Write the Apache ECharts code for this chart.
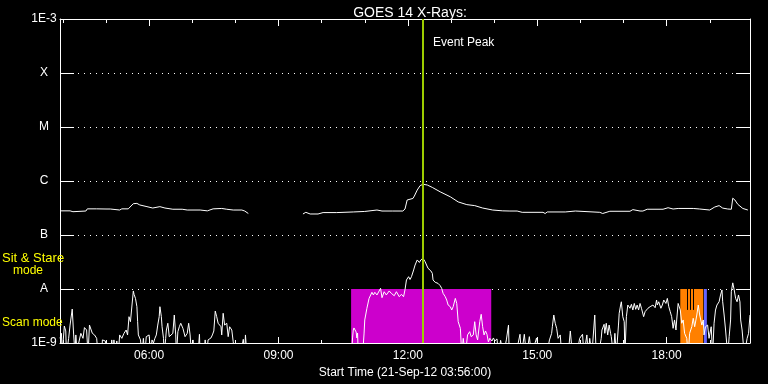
<!DOCTYPE html>
<html>
<head>
<meta charset="utf-8">
<script src="https://cdn.jsdelivr.net/npm/echarts@6/dist/echarts.min.js"></script>
<style>
html,body{margin:0;padding:0;background:#000;}
#chart{width:768px;height:384px;}
</style>
</head>
<body>
<div id="chart"></div>
<script>
// ---- data (x in minutes of day, 21-Sep-12) ----
const xMinorTicks = [240,300,360,420,480,540,600,660,720,780,840,900,960,1020,1080,1140];
const xMajorTicks = [360,540,720,900,1080];
const xTickLabels = ['06:00','09:00','12:00','15:00','18:00'];
const yTickLabels = ['1E-9','A','B','C','M','X','1E-3'];
const xRange = [236, 1196];
const yRange = [1e-9, 1e-3];
const eventPeak = 741;
const bandLevels = [1e-9, 1e-8];
const sitStareWindow = [641, 836];
const scanWindow = [1099, 1131];
const otherWindow = [1132, 1136];
const scanGaps = [1109, 1113, 1117];
const scanGapBottom = 4.1e-9;

const longFlux = [
[236,2.8e-7],[250,2.8e-7],[254,2.7e-7],[256,2.78e-7],[272,2.78e-7],[274,3.05e-7],[287,3.05e-7],[300,3.03e-7],
[306,3.03e-7],[308,2.9e-7],[319,2.9e-7],[322,3.05e-7],[331,3.05e-7],[333,3.27e-7],[338,3.8e-7],[343,3.85e-7],
[347,3.6e-7],[357,3.35e-7],[365,3.16e-7],[375,3.35e-7],[382,3.16e-7],[393,3.0e-7],[406,3.0e-7],[413,2.9e-7],
[431,2.9e-7],[441,2.8e-7],[449,3.05e-7],[461,3.1e-7],[468,3.0e-7],[477,2.9e-7],[489,2.9e-7],[493,2.78e-7],
[498,2.5e-7],[536,'-'],
[574,2.45e-7],[578,2.63e-7],[580,2.63e-7],[584,2.45e-7],[595,2.45e-7],[602,2.6e-7],[621,2.6e-7],[644,2.67e-7],
[660,2.73e-7],[677,2.9e-7],[684,2.78e-7],[699,2.78e-7],[713,2.78e-7],[716,3.03e-7],[719,4.45e-7],[720,4.8e-7],
[727,4.75e-7],[729,5.27e-7],[733,6.8e-7],[737,8.2e-7],[741,8.7e-7],[747,8.43e-7],[754,7.6e-7],[765,6.3e-7],
[779,5.1e-7],[790,4.1e-7],[802,3.65e-7],[813,3.5e-7],[824,3.16e-7],[838,2.9e-7],[852,2.8e-7],[862,2.78e-7],
[872,2.78e-7],[879,2.63e-7],[908,2.63e-7],[911,2.5e-7],[914,2.67e-7],[939,2.67e-7],[941,2.78e-7],[953,2.78e-7],
[955,2.63e-7],[987,2.63e-7],[991,2.5e-7],[1001,2.75e-7],[1029,2.75e-7],[1033,2.95e-7],[1043,2.78e-7],[1047,2.78e-7],
[1053,3.0e-7],[1068,3.0e-7],[1075,3.0e-7],[1082,3.2e-7],[1089,3.03e-7],[1096,3.1e-7],[1117,3.1e-7],[1126,3.03e-7],
[1140,2.9e-7],[1147,3.3e-7],[1153,3.5e-7],[1158,3.15e-7],[1165,3.03e-7],[1170,3.0e-7],[1172,4.8e-7],[1175,4.45e-7],
[1179,3.7e-7],[1186,3.1e-7],[1193,2.9e-7]
];

const shortFlux = [
[236,1.22e-9],[238,1.51e-9],[239,6e-10],[242,2.06e-9],[244,1.67e-9],[245,6e-10],[248,1.22e-9],[250,2.15e-9],
[253,4.25e-9],[255,1.41e-9],[257,6e-10],[258,1.41e-9],[260,6e-10],[262,1.0e-9],[265,1.51e-9],[268,1.22e-9],
[270,1.93e-9],[273,1.74e-9],[275,6e-10],[277,2.15e-9],[279,2.22e-9],[281,1.51e-9],[284,1.41e-9],[287,1.22e-9],
[289,6e-10],[291,1.0e-9],[294,6e-10],[295,1.14e-9],[299,1.09e-9],[301,6e-10],[303,1.0e-9],[306,6e-10],
[308,1.14e-9],[310,6e-10],[311,1.14e-9],[313,6e-10],[315,1.09e-9],[317,6e-10],[319,1.41e-9],[322,1.22e-9],
[325,1.51e-9],[328,1.74e-9],[330,1.41e-9],[332,3.07e-9],[334,2.48e-9],[336,2.67e-9],[338,9.2e-9],[339,7.97e-9],
[341,6.7e-9],[343,4.7e-9],[344,2.48e-9],[345,1.41e-9],[348,1.14e-9],[350,6e-10],[352,1.22e-9],[354,6e-10],
[356,1.31e-9],[358,1.22e-9],[360,1.41e-9],[362,6e-10],[364,1.14e-9],[366,1.0e-9],[368,1.22e-9],[370,1.41e-9],
[372,2.15e-9],[374,3.07e-9],[375,4.7e-9],[377,3.07e-9],[378,2.0e-9],[380,1.22e-9],[381,6e-10],[383,1.22e-9],
[384,1.74e-9],[386,2.32e-9],[388,1.31e-9],[390,1.22e-9],[393,1.51e-9],[395,3.3e-9],[397,1.41e-9],[398,6e-10],
[400,1.62e-9],[402,2.0e-9],[404,2.32e-9],[407,1.87e-9],[410,1.31e-9],[413,1.51e-9],[415,2.32e-9],[417,1.41e-9],
[419,6e-10],[421,1.14e-9],[423,6e-10],[425,1.0e-9],[428,6e-10],[430,1.45e-9],[431,6e-10],[433,1.0e-9],
[436,6e-10],[438,1.14e-9],[440,6e-10],[442,1.14e-9],[446,1.24e-9],[448,1.41e-9],[450,1.67e-9],[452,3.9e-9],
[454,3.07e-9],[456,2.32e-9],[458,2.48e-9],[460,2.0e-9],[461,1.41e-9],[463,3.55e-9],[465,2.15e-9],[468,2.32e-9],
[470,1.31e-9],[472,2.0e-9],[475,1.74e-9],[477,1.05e-9],[479,6e-10],[483,6e-10],[487,6e-10],[491,1.17e-9],
[493,6e-10],[494,1.41e-9],[496,6e-10],[560,'-'],
[642,6e-10],[643,1.24e-9],[644,1.74e-9],[645,1.9e-9],[647,1.9e-9],[648,1.6e-9],[649,1.24e-9],[650,1.53e-9],
[651,6e-10],[654,1.0e-9],[657,6e-10],[659,1.47e-9],[660,2.67e-9],[663,4.4e-9],[664,4.7e-9],[666,6.7e-9],
[668,7.2e-9],[670,8.7e-9],[672,7.75e-9],[674,8.7e-9],[677,7.75e-9],[679,8.3e-9],[682,1.03e-8],[684,6.9e-9],
[687,8.9e-9],[690,7.75e-9],[694,9.2e-9],[697,8.3e-9],[701,7.5e-9],[704,8.9e-9],[708,7.2e-9],[711,7.97e-9],
[714,7.2e-9],[716,9.7e-9],[718,1.47e-8],[721,1.69e-8],[723,1.5e-8],[725,1.69e-8],[728,2.25e-8],[730,2.78e-8],
[733,3.45e-8],[736,3.1e-8],[738,3.45e-8],[741,3.7e-8],[744,3.2e-8],[746,2.78e-8],[748,2.42e-8],[752,2.16e-8],
[754,1.95e-8],[755,1.47e-8],[758,1.33e-8],[760,1.4e-8],[762,1.27e-8],[765,1.15e-8],[767,1.03e-8],[769,8.3e-9],
[772,7.2e-9],[774,6.25e-9],[776,5.05e-9],[779,4.7e-9],[781,4.08e-9],[783,4.7e-9],[786,6.7e-9],[788,5.4e-9],
[790,2.48e-9],[793,1.87e-9],[795,6e-10],[797,1.22e-9],[800,6e-10],[803,1.41e-9],[806,1.62e-9],[808,1.31e-9],
[811,1.41e-9],[813,2.48e-9],[815,1.41e-9],[817,1.14e-9],[820,2.48e-9],[822,3.4e-9],[824,2.0e-9],[826,1.41e-9],
[828,1.67e-9],[830,1.45e-9],[832,1.05e-9],[834,1.22e-9],[837,1.09e-9],[839,1.24e-9],[841,1.09e-9],[844,1.19e-9],
[846,6e-10],[849,1.12e-9],[853,6e-10],[857,1.14e-9],[860,2.15e-9],[861,6e-10],[865,6e-10],[870,6e-10],
[876,1.45e-9],[878,6e-10],[882,1.45e-9],[885,6e-10],[889,1.31e-9],[892,6e-10],[899,1.24e-9],[903,6e-10],
[913,6e-10],[917,1.14e-9],[920,1.51e-9],[921,2.0e-9],[923,3.3e-9],[925,2.32e-9],[927,1.87e-9],[929,1.22e-9],
[932,1.41e-9],[934,6e-10],[943,6e-10],[946,1.67e-9],[949,6e-10],[955,6e-10],[959,1.22e-9],[963,1.45e-9],
[965,6e-10],[969,1.41e-9],[971,6e-10],[973,1.22e-9],[976,6e-10],[980,3.3e-9],[982,6e-10],[985,6e-10],
[989,1.22e-9],[990,1.74e-9],[993,2.22e-9],[994,1.51e-9],[996,2.32e-9],[998,1.41e-9],[1000,2.15e-9],[1002,1.51e-9],
[1003,1.31e-9],[1006,6e-10],[1008,1.51e-9],[1010,6e-10],[1013,2.15e-9],[1014,3.55e-9],[1016,5.05e-9],[1017,5.8e-9],
[1019,3.07e-9],[1021,2.48e-9],[1022,6e-10],[1024,3.07e-9],[1026,5.05e-9],[1028,5.4e-9],[1029,4.4e-9],[1031,5.2e-9],
[1033,4.08e-9],[1035,5.4e-9],[1037,4.2e-9],[1039,5.05e-9],[1041,4.08e-9],[1043,5.4e-9],[1045,4.4e-9],[1048,3.07e-9],
[1050,3.8e-9],[1052,4.08e-9],[1054,4.4e-9],[1057,4.7e-9],[1059,4.4e-9],[1061,5.05e-9],[1064,4.5e-9],[1066,6.25e-9],
[1067,5.05e-9],[1069,5.8e-9],[1072,4.4e-9],[1074,5.05e-9],[1076,6.25e-9],[1079,5.4e-9],[1081,6.7e-9],[1083,4.7e-9],
[1085,3.8e-9],[1087,3.07e-9],[1089,1.87e-9],[1091,2.67e-9],[1093,1.74e-9],[1094,2.67e-9],[1096,5.4e-9],[1099,4.08e-9],
[1101,2.32e-9],[1103,2.67e-9],[1105,1.51e-9],[1108,1.22e-9],[1110,6e-10],[1112,1.51e-9],[1115,2.0e-9],[1117,2.87e-9],
[1119,2.0e-9],[1122,3.3e-9],[1124,5.05e-9],[1126,3.3e-9],[1129,2.15e-9],[1131,2.67e-9],[1132,1.41e-9],[1134,2.0e-9],
[1137,2.15e-9],[1139,1.22e-9],[1142,2.0e-9],[1144,6e-10],[1146,2.32e-9],[1148,4.08e-9],[1150,5.05e-9],[1153,5.8e-9],
[1155,7.75e-9],[1157,9.6e-9],[1158,5.8e-9],[1160,3.3e-9],[1162,1.74e-9],[1165,6e-10],[1167,1.31e-9],[1169,2.67e-9],
[1170,8.9e-9],[1172,1.3e-8],[1174,9.6e-9],[1176,6.7e-9],[1178,5.8e-9],[1180,7.75e-9],[1182,5.8e-9],[1183,2.67e-9],
[1185,1.74e-9],[1188,6e-10],[1190,6e-10],[1192,1.22e-9],[1194,1.51e-9],[1196,3.3e-9]
];

// ---- chart ----
const FONT = 'Liberation Sans';
const WHITE = '#ffffff';
const chart = echarts.init(document.getElementById('chart'), null, {renderer: 'canvas'});

function baseX(extra) {
  return Object.assign({
    type: 'value', min: xRange[0], max: xRange[1], gridIndex: 0,
    splitLine: {show: false},
    axisLine: {show: false, lineStyle: {color: WHITE, width: 1}},
    axisLabel: {show: false},
    axisPointer: {show: false}
  }, extra);
}

const option = {
  backgroundColor: '#000000',
  animation: false,
  title: {
    text: 'GOES 14 X-Rays:',
    left: 405, top: 1, textAlign: 'center',
    textStyle: {color: WHITE, fontFamily: FONT, fontSize: 14, fontWeight: 'normal'}
  },
  grid: {left: 60, right: 18, top: 19, bottom: 41},
  xAxis: [
    baseX({
      position: 'bottom',
      axisLine: {show: true, onZero: false, lineStyle: {color: WHITE, width: 1}},
      axisTick: {show: true, inside: true, length: 3, customValues: xMinorTicks, lineStyle: {color: WHITE}},
      axisLabel: {
        show: true, customValues: xMajorTicks, margin: 7,
        color: WHITE, fontFamily: FONT, fontSize: 12,
        formatter: v => xTickLabels[xMajorTicks.indexOf(v)] || ''
      },
      name: 'Start Time (21-Sep-12 03:56:00)', nameLocation: 'middle', nameGap: 20,
      nameTextStyle: {color: WHITE, fontFamily: FONT, fontSize: 12}
    }),
    baseX({
      position: 'bottom',
      axisTick: {show: true, inside: true, length: 6, customValues: xMajorTicks, lineStyle: {color: WHITE}}
    }),
    baseX({
      position: 'top',
      axisLine: {show: true, onZero: false, lineStyle: {color: WHITE, width: 1}},
      axisTick: {show: true, inside: true, length: 4, customValues: xMinorTicks, lineStyle: {color: WHITE}}
    }),
    baseX({
      position: 'top',
      axisTick: {show: true, inside: true, length: 7, customValues: xMajorTicks, lineStyle: {color: WHITE}}
    })
  ],
  yAxis: [
    {
      type: 'log', logBase: 10, min: yRange[0], max: yRange[1], position: 'left',
      axisLine: {show: true, onZero: false, lineStyle: {color: WHITE, width: 1}},
      axisTick: {show: true, inside: true, length: 14, lineStyle: {color: WHITE}},
      axisLabel: {
        show: true, color: WHITE, fontFamily: FONT, fontSize: 12, align: 'center', margin: 16,
        formatter: v => yTickLabels[Math.round(Math.log10(v)) + 9] || ''
      },
      splitLine: {show: true, lineStyle: {color: WHITE, width: 1, type: [1, 5]}},
      axisPointer: {show: false}
    },
    {
      type: 'log', logBase: 10, min: yRange[0], max: yRange[1], position: 'right',
      axisLine: {show: true, onZero: false, lineStyle: {color: WHITE, width: 1}},
      axisTick: {show: true, inside: true, length: 14, lineStyle: {color: WHITE}},
      axisLabel: {show: false},
      splitLine: {show: false},
      axisPointer: {show: false}
    }
  ],
  series: [
    {
      name: 'bands', type: 'line', data: [], z: 1, silent: true,
      xAxisIndex: 0, yAxisIndex: 0,
      markArea: {
        silent: true,
        data: [
          [{xAxis: sitStareWindow[0], yAxis: bandLevels[1], itemStyle: {color: '#cc00cc'}}, {xAxis: sitStareWindow[1], yAxis: bandLevels[0]}],
          [{xAxis: scanWindow[0], yAxis: bandLevels[1], itemStyle: {color: '#ff8000'}}, {xAxis: scanWindow[1], yAxis: bandLevels[0]}],
          [{xAxis: otherWindow[0], yAxis: bandLevels[1], itemStyle: {color: '#6464ff'}}, {xAxis: otherWindow[1], yAxis: bandLevels[0]}]
        ]
      }
    },
    {
      name: 'gaps', type: 'line', data: [], z: 2, silent: true,
      xAxisIndex: 0, yAxisIndex: 0,
      markLine: {
        silent: true, symbol: ['none', 'none'], label: {show: false},
        lineStyle: {color: '#000000', width: 1, type: 'solid'},
        data: scanGaps.map(t => [{coord: [t, bandLevels[1]]}, {coord: [t, scanGapBottom]}])
      }
    },
    {
      name: 'long', type: 'line', data: longFlux, z: 3, silent: true,
      xAxisIndex: 0, yAxisIndex: 0, showSymbol: false, symbol: 'none', clip: true,
      lineStyle: {color: WHITE, width: 1}, connectNulls: false
    },
    {
      name: 'short', type: 'line', data: shortFlux, z: 3, silent: true,
      xAxisIndex: 0, yAxisIndex: 0, showSymbol: false, symbol: 'none', clip: true,
      lineStyle: {color: WHITE, width: 1}, connectNulls: false
    },
    {
      name: 'event', type: 'line', data: [], z: 5, silent: true,
      xAxisIndex: 0, yAxisIndex: 0,
      markLine: {
        silent: true, symbol: ['none', 'none'], label: {show: false},
        lineStyle: {color: '#9ccc00', width: 2, type: 'solid'},
        data: [{xAxis: eventPeak}]
      }
    }
  ]
};
chart.setOption(option);

// text annotations
const peakPx = chart.convertToPixel({xAxisIndex: 0}, eventPeak);
chart.setOption({
  graphic: [
    {type: 'text', left: peakPx + 10, top: 37, z: 10,
     style: {text: 'Event Peak', fill: WHITE, font: '12px "' + FONT + '"'}},
    {type: 'text', left: 2, top: 252, z: 10,
     style: {text: 'Sit & Stare', fill: '#ffff00', font: '13px "' + FONT + '"'}},
    {type: 'text', left: 13, top: 265, z: 10,
     style: {text: 'mode', fill: '#ffff00', font: '12px "' + FONT + '"'}},
    {type: 'text', left: 2, top: 317, z: 10,
     style: {text: 'Scan mode', fill: '#ffff00', font: '12px "' + FONT + '"'}}
  ]
});
</script>
</body>
</html>
